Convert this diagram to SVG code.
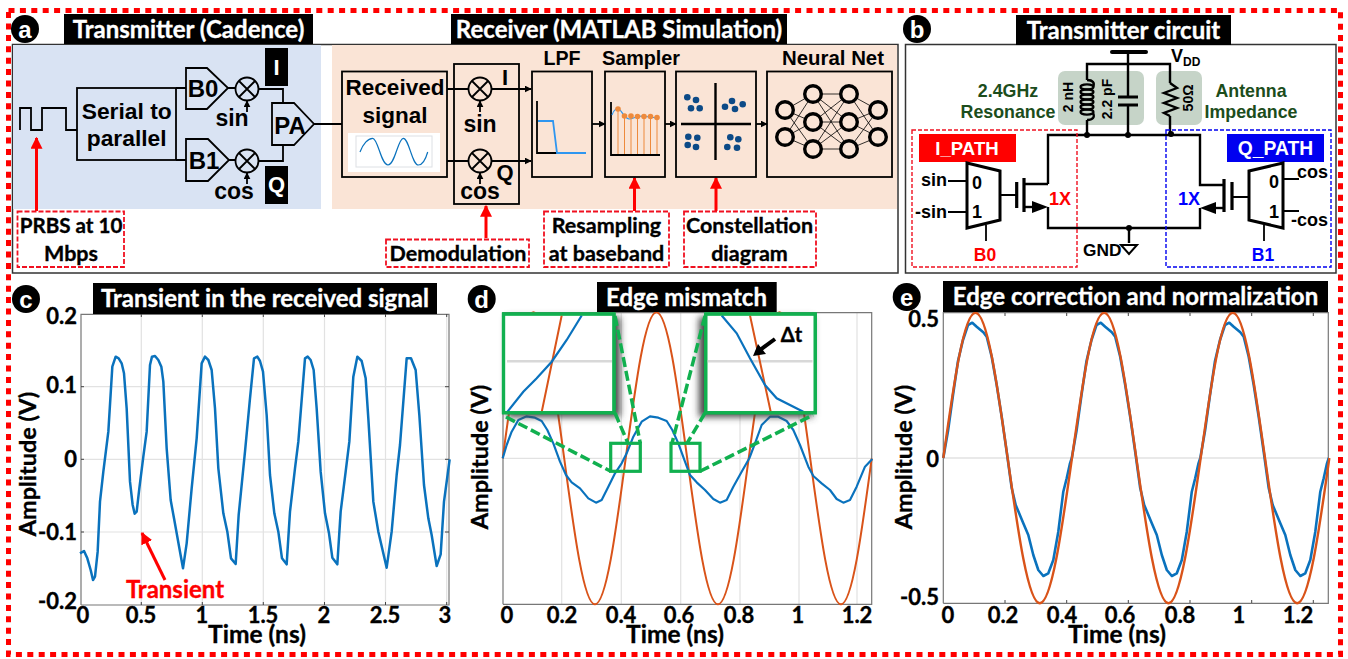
<svg xmlns="http://www.w3.org/2000/svg" xmlns:xlink="http://www.w3.org/1999/xlink" width="1348" height="659" viewBox="0 0 1348 659">
<style>
.t{font-family:"Lato","Liberation Sans",sans-serif;font-weight:700;fill:#000;stroke:#000;stroke-width:.35}
.a{font-family:"Liberation Sans",Arial,sans-serif;font-weight:700;fill:#000}
.m{text-anchor:middle}.e{text-anchor:end}
.title{font-size:24px;fill:#fff;stroke:#fff;text-anchor:middle}
.lab{font-size:21.500px;text-anchor:middle}
.tick{font-size:22px;text-anchor:middle}
.ytick{font-size:22px;text-anchor:end}
.axis{font-size:24.500px;text-anchor:middle}
.circ{font-size:24px;fill:#fff;text-anchor:middle}
.w{fill:none;stroke:#000;stroke-width:1.8}
.box{fill:none;stroke:#000;stroke-width:1.800}
.th{fill:none;stroke:#000;stroke-width:2.400}
.rd{fill:none;stroke:#f01020;stroke-width:1.800;stroke-dasharray:5 2}
.ra{stroke:#f00;stroke-width:3;fill:none}
.grid{stroke:#e2e2e2;stroke-width:1.200;fill:none}
.frame{stroke:#777;stroke-width:1.200;fill:none}
.tk{stroke:#444;stroke-width:1;fill:none}
.blue{fill:none;stroke:#0a72bd;stroke-width:2.600;stroke-linejoin:round}
.or{fill:none;stroke:#d95319;stroke-width:2}
.gd{stroke:#11b04f;stroke-width:3.500;stroke-dasharray:10 4;fill:none}
.gb{stroke:#11b04f;stroke-width:3.200;fill:#fff}
.gb2{stroke:#11b04f;stroke-width:3.200;fill:none}
.sh{fill:#444;filter:url(#blur)}
.dot{fill:#0c4a87}
.sg{fill:#c6d4c8}
.gt{fill:#1c4d1c;font-size:17.800px;text-anchor:middle}
.s15{font-size:18px}
</style>
<defs>
<marker id="ah" viewBox="0 0 10 10" refX="9" refY="5" markerWidth="7" markerHeight="7" markerUnits="userSpaceOnUse" orient="auto"><path d="M0,0L10,5L0,10z" fill="#000"/></marker>
<marker id="rh" viewBox="0 0 10 10" refX="9" refY="5" markerWidth="12" markerHeight="12" markerUnits="userSpaceOnUse" orient="auto"><path d="M0,0L10,5L0,10z" fill="#f00"/></marker>
<filter id="blur" x="-20%" y="-20%" width="140%" height="140%"><feGaussianBlur stdDeviation="3.500"/></filter>
<polyline id="eblue" class="blue" points="943.3,458 948,431 953,395 958,361 963,340 968,325 972.3,322.7 976.7,326.700 983.3,332.3 986.7,336.7 991.7,356.7 996.7,385 1001.7,416.7 1006.7,451.7 1011.7,488 1015.700,505 1023.3,523.3 1028.3,535 1033.3,555 1038.3,570 1043.3,576 1048.3,573.3 1053.3,560 1058.3,531.7 1063.3,491.7 1066.700,478.300 1070,463.300 1071.8,458"/>
</defs>

<rect id="outer-border" x="8.500" y="10.500" width="1332" height="644" fill="none" stroke="#f00" stroke-width="5" stroke-dasharray="6 5.400"/>

<g id="panel-a">
<rect x="12.500" y="44.500" width="885.500" height="228.500" fill="#fff" stroke="#333" stroke-width="1.500"/>
<rect x="13" y="45" width="308" height="164" fill="#d9e3f3"/>
<rect x="332" y="45" width="565" height="164" fill="#fae4d6"/>
<circle cx="25" cy="29" r="14"/><text class="a circ" x="25" y="37.500">a</text>
<rect x="64" y="14" width="249" height="30"/><text class="t title" x="188.500" y="38">Transmitter (Cadence)</text>
<rect x="451" y="14" width="336" height="30"/><text class="t title" x="619" y="38">Receiver (MATLAB Simulation)</text>
</g>

<g id="connectors">
<path class="w" d="M20,130V108H31V130H42V108H66V130H77"/>
<path class="w" d="M176,88H186M176,160H186M228,88H236M229,160H236M258.500,89H283V103M258.500,161H283V145M314,124H342"/>
<path class="w" d="M447,89H468.500M447,161H468.500"/>
<path class="w" marker-end="url(#ah)" d="M491.500,89H531"/>
<path class="w" marker-end="url(#ah)" d="M491.500,161H531"/>
<path class="w" marker-end="url(#ah)" d="M592,124H605"/>
<path class="w" marker-end="url(#ah)" d="M665,124H676"/>
<path class="w" marker-end="url(#ah)" d="M756,124H767"/>
<path class="w" marker-end="url(#ah)" d="M247,112V101"/>
<path class="w" marker-end="url(#ah)" d="M247,184V173"/>
<path class="w" marker-end="url(#ah)" d="M480,112V101"/>
<path class="w" marker-end="url(#ah)" d="M480,184V173"/>
<path class="ra" marker-end="url(#rh)" d="M36.500,211V138"/>
<path class="ra" marker-end="url(#rh)" d="M486,238V206"/>
<path class="ra" marker-end="url(#rh)" d="M634.500,211V178"/>
<path class="ra" marker-end="url(#rh)" d="M716,211V178"/>
</g>

<g id="serial"><rect class="box" x="77" y="88" width="99" height="72"/><text class="a lab" x="126.700" y="119" style="font-size:22.800px">Serial to</text><text class="a lab" x="126.700" y="146" style="font-size:22.800px">parallel</text></g>
<g id="b0"><path class="box" d="M186,68H207L228,88L207,109H186Z"/><text class="a lab" x="203" y="97" style="font-size:24px">B0</text></g>
<g id="b1"><path class="box" d="M186,139H208L229,160L208,181H186Z"/><text class="a lab" x="204" y="169" style="font-size:24px">B1</text></g>
<g id="mix1"><circle class="box" cx="247" cy="89" r="11.500"/><path class="w" d="M239,81L255,97M255,81L239,97"/><text class="a m" x="232" y="126" style="font-size:23px">sin</text></g>
<g id="mix2"><circle class="box" cx="247" cy="161" r="11.500"/><path class="w" d="M239,153L255,169M255,153L239,169"/><text class="a m" x="234" y="199" style="font-size:23px">cos</text></g>
<g id="pa"><path class="box" d="M272,103H294L314,124L294,145H272Z"/><text class="a lab" x="290" y="133.500" style="font-size:24px">PA</text></g>
<g id="i-tag"><rect x="265" y="48" width="23" height="38"/><text class="a m" x="276.500" y="75" style="font-size:22px;fill:#fff">I</text></g>
<g id="q-tag"><rect x="265" y="166" width="23" height="38"/><text class="a m" x="276.500" y="192" style="font-size:22px;fill:#fff">Q</text></g>

<g id="received"><rect class="box" x="342" y="71.500" width="105" height="105.500"/>
<text class="a m" x="395" y="95" style="font-size:22.500px">Received</text><text class="a m" x="395" y="122.700" style="font-size:22.500px">signal</text>
<rect x="348" y="133" width="92" height="39" fill="#fff"/><rect x="356" y="136" width="76" height="31" fill="#fff" stroke="#dde0e4"/>
<path d="M360,152C363,144 368,138.300 372.700,138.300C378,138.300 381,165 388,165C395,165 398,138.300 403.300,138.300C409,138.300 412,165 418.300,165C423,165 426,158 427.700,152" fill="none" stroke="#0a72bd" stroke-width="1.200"/></g>

<g id="demod"><rect class="box" x="454" y="64" width="65" height="140"/>
<circle class="box" cx="480" cy="89" r="11.500"/><path class="w" d="M472,81L488,97M488,81L472,97"/>
<circle class="box" cx="480" cy="161" r="11.500"/><path class="w" d="M472,153L488,169M488,153L472,169"/>
<text class="a m" x="505" y="85" style="font-size:22px">I</text><text class="a m" x="480" y="132" style="font-size:23px">sin</text><text class="a m" x="505" y="180" style="font-size:22px">Q</text><text class="a m" x="480" y="199" style="font-size:23px">cos</text></g>

<g id="lpf"><text class="a m" x="562" y="65" style="font-size:19.600px">LPF</text><rect class="box" x="532" y="71.500" width="60" height="105.500"/>
<path class="w" d="M537,101V153H586"/><path d="M538,121H553L557,153H586" fill="none" stroke="#2e96f0" stroke-width="1.800"/></g>

<g id="sampler"><text class="a m" x="641" y="65" style="font-size:19.800px">Sampler</text><rect class="box" x="605" y="71.500" width="60" height="105.500"/>
<path class="w" d="M611,102V155H660"/>
<path d="M612,115C614,109 617,108 619,109C622,111 624,118 629,119C633,119 636,116 642,116L657,118" fill="none" stroke="#2e96f0" stroke-width="1.200"/>
<path d="M618,109V154M624.500,116V154M631,116V154M637.500,116.500V154M644,116.500V154M650.500,116.500V154M657,117.500V154" fill="none" stroke="#ee8a3c" stroke-width="1"/>
<g fill="#ee8a3c"><circle cx="618" cy="109" r="2.800"/><circle cx="624.500" cy="116" r="2.800"/><circle cx="631" cy="116" r="2.800"/><circle cx="637.500" cy="116.500" r="2.800"/><circle cx="644" cy="116.500" r="2.800"/><circle cx="650.500" cy="116.500" r="2.800"/><circle cx="657" cy="117.500" r="2.800"/></g></g>

<g id="constellation"><rect class="box" x="676" y="71.500" width="80" height="105.500"/>
<path d="M715.500,83V160M681,124H751" stroke="#000" stroke-width="2.400" fill="none"/>
<g class="dot"><circle cx="687.300" cy="97.300" r="3.300"/><circle cx="696" cy="100" r="3.300"/><circle cx="691" cy="108.300" r="3.300"/><circle cx="699.700" cy="108.300" r="3.300"/><circle cx="725" cy="106.700" r="3.300"/><circle cx="732" cy="101" r="3.300"/><circle cx="742.700" cy="104.300" r="3.300"/><circle cx="735" cy="109" r="3.300"/><circle cx="688.300" cy="136.700" r="3.300"/><circle cx="697.300" cy="137.700" r="3.300"/><circle cx="687.700" cy="145" r="3.300"/><circle cx="696" cy="147" r="3.300"/><circle cx="730.300" cy="137.300" r="3.300"/><circle cx="738.300" cy="139.300" r="3.300"/><circle cx="727.300" cy="147" r="3.300"/><circle cx="737" cy="147.700" r="3.300"/></g></g>

<g id="neural-net"><text class="a m" x="833" y="65" style="font-size:20.400px">Neural Net</text><rect class="box" x="767" y="71.500" width="125" height="105.500"/>
<path stroke="#000" stroke-width="0.800" fill="none" d="M785,110L813,94M785,110L813,122M785,110L813,149M785,137L813,94M785,137L813,122M785,137L813,149M813,94L849,94M813,94L849,122M813,94L849,149M813,122L849,94M813,122L849,122M813,122L849,149M813,149L849,94M813,149L849,122M813,149L849,149M849,94L878,110M849,94L878,137M849,122L878,110M849,122L878,137M849,149L878,110M849,149L878,137"/>
<g fill="#fae4d6" stroke="#000" stroke-width="3.400"><circle cx="785" cy="110" r="8.300"/><circle cx="785" cy="137" r="8.300"/><circle cx="813" cy="94" r="8.300"/><circle cx="813" cy="122" r="8.300"/><circle cx="813" cy="149" r="8.300"/><circle cx="849" cy="94" r="8.300"/><circle cx="849" cy="122" r="8.300"/><circle cx="849" cy="149" r="8.300"/><circle cx="878" cy="110" r="8.300"/><circle cx="878" cy="137" r="8.300"/></g></g>

<g id="note-prbs"><rect class="rd" x="17.500" y="211.500" width="106.500" height="55.500"/><text class="t lab" x="71" y="233" style="font-size:20.600px">PRBS at 10</text><text class="t lab" x="71" y="261">Mbps</text></g>
<g id="note-demod"><rect class="rd" x="386" y="239.500" width="143" height="27.500"/><text class="t lab" x="458" y="261">Demodulation</text></g>
<g id="note-resample"><rect class="rd" x="544" y="211.500" width="125" height="55.500"/><text class="t lab" x="606.500" y="233">Resampling</text><text class="t lab" x="606.500" y="261">at baseband</text></g>
<g id="note-const"><rect class="rd" x="684" y="211.500" width="132" height="55.500"/><text class="t lab" x="749.500" y="233">Constellation</text><text class="t lab" x="749.500" y="261">diagram</text></g>

<g id="panel-b">
<rect x="905.500" y="44.500" width="430.500" height="228.500" fill="#fff" stroke="#333" stroke-width="1.500"/>
<circle cx="917" cy="29" r="14"/><text class="a circ" x="917" y="37.500">b</text>
<rect x="1016" y="15" width="215" height="30"/><text class="t title" x="1123.500" y="39">Transmitter circuit</text>
<rect class="sg" x="1058" y="71" width="86" height="54" rx="7"/><rect class="sg" x="1156" y="71" width="46" height="54" rx="7"/>
<path d="M1112,52H1146" stroke="#000" stroke-width="4" stroke-linecap="round"/>
<path class="th" d="M1128,52V135M1087,80V64H1170V83M1087,120V135M1170,116V135M1048,184V135H1200V185H1224M1025,184H1048M1048,207V228H1200V208M1129,228V243"/>
<path class="th" stroke-width="2" d="M1087,80C1093,80 1095,83 1093,87M1087,120C1093,120 1095,117 1093,113"/>
<g fill="none" stroke="#000" stroke-width="2.200"><ellipse cx="1087" cy="87" rx="6.500" ry="2.600"/><ellipse cx="1087" cy="92" rx="6.500" ry="2.600"/><ellipse cx="1087" cy="97" rx="6.500" ry="2.600"/><ellipse cx="1087" cy="102" rx="6.500" ry="2.600"/><ellipse cx="1087" cy="107" rx="6.500" ry="2.600"/><ellipse cx="1087" cy="112" rx="6.500" ry="2.600"/></g>
<rect class="sg" x="1118" y="96.500" width="20" height="9"/>
<path d="M1118,97H1138M1118,105H1138" stroke="#000" stroke-width="3"/>
<path class="th" d="M1170,83L1177,88L1164,93L1177,98L1164,103L1177,108L1164,113L1170,116"/>
<circle cx="1087" cy="135" r="3"/><circle cx="1128" cy="135" r="3"/><circle cx="1171" cy="134" r="3"/><circle cx="1129" cy="228" r="3"/>
<path d="M1121,245H1137L1129,254Z" fill="#fff" stroke="#000" stroke-width="2"/>
<text class="a" x="1171" y="62" style="font-size:18px">V<tspan dy="4" font-size="12px">DD</tspan></text>
<text class="a m" transform="translate(1073,97) rotate(-90)" style="font-size:14px">2 nH</text>
<text class="a m" transform="translate(1112,99) rotate(-90)" style="font-size:14px">2.2 pF</text>
<text class="a m" transform="translate(1193,98) rotate(-90)" style="font-size:14px">50Ω</text>
<text class="a gt" x="1008" y="97">2.4GHz</text><text class="a gt" x="1008" y="118">Resonance</text>
<text class="a gt" x="1251" y="97">Antenna</text><text class="a gt" x="1251" y="118">Impedance</text>
<text class="a" x="1083" y="256" style="font-size:17.300px">GND</text>
</g>

<g id="i-path">
<rect x="912" y="130" width="165" height="137" fill="none" stroke="#f01020" stroke-width="1.400" stroke-dasharray="4 2"/>
<rect x="919" y="134" width="97" height="28" fill="#f00"/><text class="a m" x="967" y="155" style="font-size:18.600px;fill:#fff">I_PATH</text>
<path d="M967,163L1000,171V220L967,228Z" fill="#fff" stroke="#000" stroke-width="3"/>
<text class="a m s15" x="977" y="189">0</text><text class="a m s15" x="977" y="218">1</text>
<path class="w" d="M948,181H967M948,212H967M1000,195H1016M986,225V241"/>
<text class="a e s15" x="947" y="186">sin</text><text class="a e s15" x="947" y="218">-sin</text>
<path d="M1016.700,182V208M1024,178V212" stroke="#000" stroke-width="3.200"/>
<path d="M1024,207H1040" class="th"/><path d="M1032,201L1048,207L1032,213Z"/>
<text class="a m s15" x="1060" y="205" style="fill:#f00">1X</text>
<text class="a m" x="985" y="261" style="font-size:17.500px;fill:#f00">B0</text>
</g>
<g id="q-path">
<rect x="1166" y="130" width="165" height="137" fill="none" stroke="#0000f0" stroke-width="1.400" stroke-dasharray="4 2"/>
<rect x="1227" y="134" width="97" height="28" fill="#0000f0"/><text class="a m" x="1275.500" y="155" style="font-size:19.300px;fill:#fff">Q_PATH</text>
<path d="M1283,163L1249,171V220L1283,228Z" fill="#fff" stroke="#000" stroke-width="3"/>
<text class="a m s15" x="1274" y="188">0</text><text class="a m s15" x="1274" y="218">1</text>
<path class="w" d="M1283,179H1299M1283,211H1299M1232,197H1249M1264,225V241"/>
<text class="a s15" x="1297" y="178">cos</text><text class="a s15" x="1291" y="226">-cos</text>
<path d="M1232,182V210M1224,179V212" stroke="#000" stroke-width="3.200"/>
<path d="M1224,208H1208" class="th"/><path d="M1216,202L1200,208L1216,214Z"/>
<text class="a m s15" x="1189" y="205" style="fill:#00f">1X</text>
<text class="a m" x="1263" y="261" style="font-size:17.500px;fill:#00f">B1</text>
</g>

<g id="panel-c">
<path class="grid" d="M141.300,314V605M202.300,314V605M263.300,314V605M324.500,314V605M385.500,314V605M446.700,314V605M81,386.700H449M81,459.300H449M81,532H449"/>
<path class="frame" d="M81,605V314.300H449V605H81"/>
<path class="tk" d="M141.300,314V317M202.300,314V317M263.300,314V317M324.500,314V317M385.500,314V317M446.700,314V317M141.300,605V602M202.300,605V602M263.300,605V602M324.500,605V602M385.500,605V602M446.700,605V602M81,386.700H84M81,459.300H84M81,532H84M449,386.700H445M449,459.300H445M449,532H445"/>
<polyline class="blue" transform="translate(0,275) scale(0.33333)" style="stroke-width:7.500" points="240,835 252,828 262,850 272,885 279,915 285,905 293,830 300,680 310,590 325,470 337,275 347,245 356,250 365,265 372,295 380,400 390,620 398,690 404,716 410,710 418,640 430,545 440,470 450,270 456,245 465,243 475,255 484,275 490,320 500,520 512,675 522,730 540,830 549,880 560,805 575,640 590,490 605,265 615,245 625,255 635,285 645,400 655,580 670,715 682,770 693,850 707,867 716,720 735,530 750,370 762,250 772,245 780,258 789,290 800,420 810,600 823,715 835,770 846,850 860,868 870,710 885,580 895,500 915,250 923,245 932,255 941,285 950,400 962,590 975,715 987,775 997,848 1012,868 1022,710 1037,590 1048,500 1060,305 1072,245 1085,258 1097,310 1105,430 1120,680 1135,770 1160,878 1175,770 1190,600 1200,510 1220,250 1233,250 1247,285 1258,420 1272,630 1285,730 1295,780 1310,873 1322,838 1332,680 1349,553"/>
<circle cx="26" cy="299" r="14"/><text class="a circ" x="26" y="307.500">c</text>
<rect x="93" y="283" width="344" height="31"/><text class="t title" x="265" y="307">Transient in the received signal</text>
<text class="t ytick" x="77" y="324">0.2</text><text class="t ytick" x="77" y="393">0.1</text><text class="t ytick" x="77" y="467">0</text><text class="t ytick" x="77" y="540">-0.1</text><text class="t ytick" x="77" y="609">-0.2</text>
<text class="t tick" x="83" y="623">0</text><text class="t tick" x="141" y="623">0.5</text><text class="t tick" x="202" y="623">1</text><text class="t tick" x="263" y="623">1.5</text><text class="t tick" x="324" y="623">2</text><text class="t tick" x="385" y="623">2.5</text><text class="t tick" x="445" y="623">3</text>
<text class="t axis" x="257" y="643">Time (ns)</text>
<text class="t axis" transform="translate(36,464) rotate(-90)" style="font-size:23.500px">Amplitude (V)</text>
<text class="t m" x="175" y="598" style="font-size:24px;fill:#f00;stroke:#f00">Transient</text>
<path class="ra" marker-end="url(#rh)" d="M165,580L142,533"/>
</g>

<g id="panel-d">
<path class="grid" d="M561.700,313V604M621.300,313V604M680.700,313V604M740,313V604M799,313V604M857,313V604M503,458.300H872"/>
<path class="frame" d="M503,604.300V312.700H871.700V604.300H503"/>
<path class="or" d="M502.700,458.300c10.030,-74.800 19.620,-146 30.750,-146c11.130,0 20.720,71.200 30.750,146c10.030,74.800 19.620,146 30.750,146c11.130,0 20.720,-71.200 30.750,-146c10.030,-74.800 19.620,-146 30.750,-146c11.130,0 20.720,71.200 30.750,146c10.030,74.800 19.620,146 30.750,146c11.130,0 20.720,-71.200 30.750,-146c10.030,-74.800 19.620,-146 30.750,-146c11.130,0 20.720,71.200 30.750,146c10.030,74.800 19.620,146 30.750,146c11.130,0 20.720,-71.200 30.750,-146"/>
<polyline class="blue" transform="translate(460,275) scale(0.33333)" style="stroke-width:6.500" points="128,550 140,510 155,470 175,435 200,424 225,428 245,438 262,465 280,505 300,560 318,600 335,622 360,640 385,670 408,683 425,675 445,635 465,595 485,565 500,535 520,485 545,440 570,424 595,428 620,438 637,465 655,505 675,560 690,600 710,622 735,645 760,672 780,683 800,675 820,635 845,590 868,550 885,505 905,450 930,425 955,425 980,438 1000,465 1020,510 1045,575 1060,603 1085,625 1110,645 1130,672 1150,683 1170,675 1190,635 1215,575 1237,552"/>
<rect class="sh" x="507" y="317" width="113" height="100"/><rect class="sh" x="699" y="317" width="114" height="100"/>
<rect class="gb" x="503.500" y="314" width="110.500" height="98.700"/><rect class="gb" x="705.700" y="314" width="109.600" height="98.700"/>
<g fill="none">
<path d="M507,361.300H612M707,361.300H812.500" stroke="#d8d8d8" stroke-width="2.600"/>
<path d="M561.700,315.500L541.700,412M750,315.500L770.700,411.700" stroke="#d95319" stroke-width="2"/>
<path d="M506.700,412.700L523.300,391.700L536.700,378.300L551.700,361.700L566.700,340L581.700,315.500M721.700,315.500L736.700,333.300L750,358.300L765,385L776.700,398.300L803.300,411.700" stroke="#0a72bd" stroke-width="2.200"/>
</g>
<rect class="gb2" x="503.500" y="314" width="110.500" height="98.700"/><rect class="gb2" x="705.700" y="314" width="109.600" height="98.700"/>
<text class="t m" x="791.500" y="342" style="font-size:20px">Δt</text>
<path d="M775,339L756,353" stroke="#000" stroke-width="4" fill="none"/><path d="M753,356L758,344L766,354Z"/>
<rect class="gb2" x="610.700" y="443.300" width="29.600" height="28"/><rect class="gb2" x="671" y="443.300" width="29" height="28"/>
<path class="gd" d="M506,417L610.700,471.300M615,316L640.300,443.300M615,413L628,443.300M705,316L672,443.300M705,413L687,443.300M700,471.300L813,415"/>
<circle cx="481.700" cy="299" r="14"/><text class="a circ" x="481.700" y="307.500">d</text>
<rect x="597" y="282" width="179.700" height="30"/><text class="t title" x="686.500" y="306">Edge mismatch</text>
<text class="t tick" x="507" y="623">0</text><text class="t tick" x="562" y="623">0.2</text><text class="t tick" x="621" y="623">0.4</text><text class="t tick" x="679" y="623">0.6</text><text class="t tick" x="739" y="623">0.8</text><text class="t tick" x="798" y="623">1</text><text class="t tick" x="857" y="623">1.2</text>
<text class="t axis" x="675" y="643">Time (ns)</text>
<text class="t axis" transform="translate(488,457) rotate(-90)" style="font-size:23.500px">Amplitude (V)</text>
</g>

<g id="panel-e">
<path class="grid" style="stroke-width:1.600" d="M943,458H1328"/>
<path class="frame" d="M943.300,603.300V312.700H1328.300V603.300H943.300"/>
<path class="tk" d="M1005,313V316M1066.700,313V316M1128.300,313V316M1190,313V316M1251.700,313V316M1313.300,313V316M1005,603V600M1066.700,603V600M1128.300,603V600M1190,603V600M1251.700,603V600M1313.300,603V600"/>
<use xlink:href="#eblue" href="#eblue"/><use xlink:href="#eblue" href="#eblue" transform="translate(128.500,0)"/><use xlink:href="#eblue" href="#eblue" transform="translate(257,0)"/>
<path class="or" style="stroke-width:2.400" d="M943.300,458c10.490,-74.440 20.530,-145.300 32.170,-145.300c11.640,0 21.680,70.860 32.170,145.300c10.490,74.440 20.530,145.300 32.170,145.300c11.640,0 21.680,-70.860 32.170,-145.300c10.490,-74.440 20.530,-145.300 32.170,-145.300c11.640,0 21.680,70.860 32.170,145.300c10.490,74.440 20.530,145.300 32.170,145.300c11.640,0 21.680,-70.860 32.170,-145.300c10.490,-74.440 20.530,-145.300 32.170,-145.300c11.640,0 21.680,70.860 32.170,145.300c10.490,74.440 20.530,145.300 32.170,145.300c11.640,0 21.680,-70.860 32.170,-145.300"/>
<circle cx="906.700" cy="297" r="14"/><text class="a circ" x="906.700" y="305.500">e</text>
<rect x="943" y="281" width="385" height="31"/><text class="t title" x="1135.500" y="305">Edge correction and normalization</text>
<text class="t ytick" x="939" y="327">0.5</text><text class="t ytick" x="939" y="467">0</text><text class="t ytick" x="939" y="605">-0.5</text>
<text class="t tick" x="948" y="623">0</text><text class="t tick" x="1003" y="623">0.2</text><text class="t tick" x="1062" y="623">0.4</text><text class="t tick" x="1120" y="623">0.6</text><text class="t tick" x="1180" y="623">0.8</text><text class="t tick" x="1239" y="623">1</text><text class="t tick" x="1298" y="623">1.2</text>
<text class="t axis" x="1117" y="643">Time (ns)</text>
<text class="t axis" transform="translate(912,457) rotate(-90)" style="font-size:23.500px">Amplitude (V)</text>
</g>
</svg>
